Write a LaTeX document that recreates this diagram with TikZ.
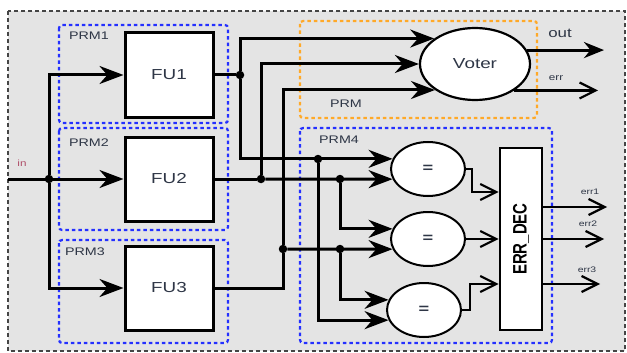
\documentclass[tikz,border=0pt]{standalone}
\usepackage{fontspec}
\setmainfont{Liberation Sans}
\usepackage{graphicx}
\usetikzlibrary{arrows.meta, shapes.geometric}
\definecolor{frame-gray}{HTML}{454545}
\definecolor{back-gray}{HTML}{E4E4E4}
\definecolor{prm-blue}{HTML}{2430FF}
\definecolor{prm-orange}{HTML}{FFA928}
\definecolor{label-color}{HTML}{2E3646}
\definecolor{in-color}{HTML}{B0506A}
\newcommand{\hstretch}[1]{\scalebox{1.3}[1]{#1}}
\tikzset{
  fu-box/.style={
    draw, line width=3pt, fill=white, minimum width=88pt, minimum height=84pt,
    inner sep=0pt, text=label-color, font=\fontsize{14.5}{16}\selectfont
  },
  voter-node/.style={
    ellipse, draw, line width=2.2pt, fill=white, minimum width=110pt, minimum height=72pt,
    inner sep=0pt, text=label-color, font=\fontsize{14.5}{16}\selectfont
  },
  cmp-node/.style={
    ellipse, draw, line width=2pt, fill=white, minimum width=74pt, minimum height=54pt,
    inner sep=0pt, text=label-color, font=\fontsize{14}{16}\selectfont\bfseries
  },
  dec-box/.style={
    draw, line width=2.6pt, fill=white, minimum width=42pt, minimum height=182pt,
    inner sep=0pt, font=\fontsize{15}{17}\selectfont\bfseries
  },
  prm-box/.style={draw=prm-blue, line width=2.2pt, rounded corners=3pt, dash pattern=on 3.5pt off 3pt},
  prm-tag/.style={text=label-color, font=\fontsize{11}{12}\selectfont},
  small-tag/.style={text=label-color, font=\fontsize{8}{9}\selectfont},
  dot/.style={circle, fill, inner sep=0pt, minimum size=8.5pt},
  wire/.style={line width=3pt},
  thin-wire/.style={line width=2.2pt},
  big-tip/.style={-{Stealth[length=24pt, width=18pt]}},
  open-tip/.style={-{Straight Barb[length=16pt, width=16pt]}}
}

\begin{document}
\begin{tikzpicture}[x=1pt, y=-1pt]
  \useasboundingbox (0,0) rectangle (627,353);
  % frame and the reconfigurable regions
  \draw[frame-gray, fill=back-gray, line width=2.2pt, dash pattern=on 4pt off 3pt] (8,11) rectangle (625,351);
  \draw[prm-box] (59,25) rectangle (228,123);
  \draw[prm-box] (59,128) rectangle (228,230);
  \draw[prm-box] (59,240) rectangle (228,343);
  \draw[prm-box] (300,128) rectangle (552,343);
  \draw[prm-box, draw=prm-orange] (300,21) rectangle (537,118);

  \node[prm-tag] (prm1-tag) at (89,36)  {\hstretch{PRM1}};
  \node[prm-tag] (prm2-tag) at (89,143) {\hstretch{PRM2}};
  \node[prm-tag] (prm3-tag) at (85,252) {\hstretch{PRM3}};
  \node[prm-tag] (prm-tag)  at (346,104) {\hstretch{PRM}};
  \node[prm-tag] (prm4-tag) at (339,140) {\hstretch{PRM4}};

  \node[fu-box] (fu1) at (169,75)  {\hstretch{FU1}};
  \node[fu-box] (fu2) at (169,179) {\hstretch{FU2}};
  \node[fu-box] (fu3) at (169,288) {\hstretch{FU3}};
  \node[voter-node] (voter) at (475,64) {\hstretch{Voter}};
  \node[cmp-node] (cmp1) at (428,169) {\hstretch{=}};
  \node[cmp-node] (cmp2) at (428,239) {\hstretch{=}};
  \node[cmp-node] (cmp3) at (424,310) {\hstretch{=}};
  \node[dec-box] (dec) at (521,239) {\rotatebox{90}{\scalebox{1}[1.3]{ERR\_DEC}}};

  \coordinate (src) at (8,179);
  \node[dot] (jin) at (49,179) {};
  \node[dot] (j1) at (240,75) {};
  \node[dot] (j2) at (261,179) {};
  \node[dot] (j3) at (283,249) {};
  \node[dot] (j4) at (340,179) {};
  \node[dot] (j5) at (340,249) {};
  \node[dot] (j6) at (318,159) {};

  % inputs of the three units
  \draw[wire, big-tip] (src) -- (fu2.west);
  \draw[wire, big-tip] (jin) |- (fu1.west);
  \draw[wire, big-tip] (jin) |- (fu3.west);
  \node[text=in-color, font=\fontsize{9}{10}\selectfont] (in-tag) at (22,163) {\hstretch{in}};

  % unit outputs to the voter and to the comparators
  \draw[wire] (fu1.east) -- (j1);
  \draw[wire, big-tip] (j1) |- (voter.148);
  \draw[wire, big-tip] (j1) |- (cmp1.164);
  \draw[wire] (fu2.east) -- (j2);
  \draw[wire, big-tip] (j2) |- (voter.west);
  \draw[wire, big-tip] (j2) -- (cmp1.196);
  \draw[wire, big-tip] (j4) |- (cmp2.164);
  \draw[wire] (fu3.east) -| (j3);
  \draw[wire, big-tip] (j3) |- (voter.213);
  \draw[wire, big-tip] (j3) -- (cmp2.196);
  \draw[wire, big-tip] (j5) |- (cmp3.164);
  \draw[wire, big-tip] (j6) |- (cmp3.196);

  % voter outputs
  \coordinate (outtip) at (604,50);
  \coordinate (errtip) at (598,90);
  \draw[wire, -{Stealth[length=20pt, width=16pt]}] (voter.15) -- (voter.15 -| outtip);
  \draw[thin-wire, open-tip] (voter.326) -- (voter.326 -| errtip);
  \node[text=label-color, font=\fontsize{13}{14}\selectfont] (out-tag) at (560,33) {\hstretch{out}};
  \node[text=label-color, font=\fontsize{9}{10}\selectfont] (err-tag) at (556,78) {\hstretch{err}};

  % comparators into the decoder
  \draw[thin-wire, open-tip] (cmp1.east) -- ++(6,0) |- ([yshift=47pt]dec.west);
  \draw[thin-wire, open-tip] (cmp2) -- (dec);
  \draw[thin-wire, open-tip] (cmp3.east) -- ++(8,0) |- ([yshift=-45pt]dec.west);

  % decoder outputs
  \coordinate (err1tip) at (607,207);
  \coordinate (err2tip) at (604,239);
  \coordinate (err3tip) at (600,284);
  \draw[thin-wire, open-tip] (dec.east |- err1tip) -- (err1tip);
  \draw[thin-wire, open-tip] (dec.east |- err2tip) -- (err2tip);
  \draw[thin-wire, open-tip] (dec.east |- err3tip) -- (err3tip);
  \node[small-tag] (err1-tag) at (590,192) {\hstretch{err1}};
  \node[small-tag] (err2-tag) at (588,224) {\hstretch{err2}};
  \node[small-tag] (err3-tag) at (587,270) {\hstretch{err3}};
\end{tikzpicture}
\end{document}
